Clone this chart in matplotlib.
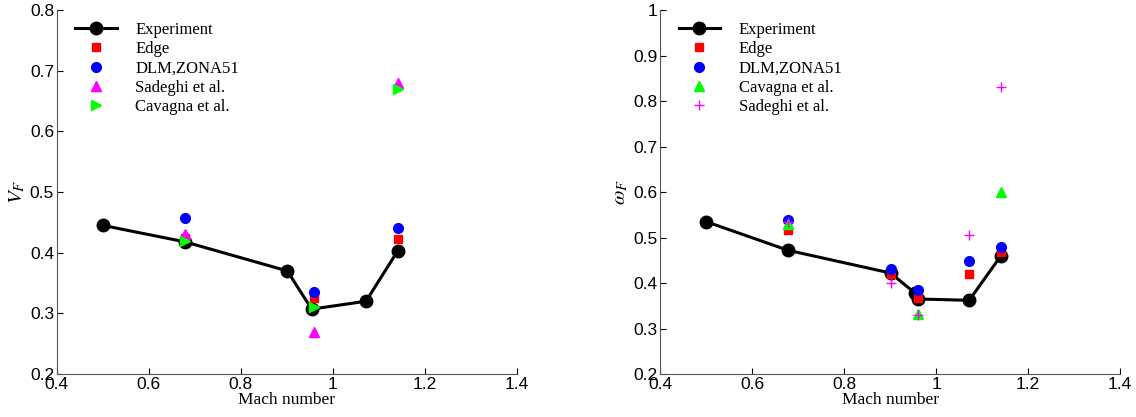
import matplotlib.pyplot as plt

plt.rcParams['mathtext.fontset'] = 'stix'

# left panel: flutter speed index
exp_mach = [0.5, 0.678, 0.901, 0.954, 1.072, 1.141]
exp_vf = [0.445, 0.418, 0.370, 0.307, 0.320, 0.403]
edge_mach = [0.678, 0.96, 1.141]
edge_vf = [0.425, 0.326, 0.423]
dlm_mach = [0.678, 0.96, 1.141]
dlm_vf = [0.458, 0.335, 0.440]
sad_mach = [0.678, 0.96, 1.141]
sad_vf = [0.430, 0.270, 0.680]
cav_mach = [0.678, 0.96, 1.141]
cav_vf = [0.420, 0.310, 0.670]

# right panel: flutter frequency ratio
exp_mach2 = [0.5, 0.678, 0.901, 0.954, 0.96, 1.072, 1.141]
exp_wf = [0.535, 0.472, 0.422, 0.378, 0.365, 0.362, 0.460]
edge_mach2 = [0.678, 0.901, 0.96, 1.072, 1.141]
edge_wf = [0.517, 0.420, 0.368, 0.420, 0.468]
dlm_mach2 = [0.678, 0.901, 0.96, 1.072, 1.141]
dlm_wf = [0.538, 0.430, 0.385, 0.448, 0.480]
cav_mach2 = [0.678, 0.96, 1.141]
cav_wf = [0.530, 0.332, 0.600]
sad_mach2 = [0.678, 0.901, 0.96, 1.072, 1.141]
sad_wf = [0.535, 0.400, 0.330, 0.505, 0.830]

serif = 'Liberation Serif'
sans = 'Liberation Sans'

fig = plt.figure(figsize=(11.36, 4.17), dpi=100)
ax1 = fig.add_axes([0.050, 0.103, 0.405, 0.873])
ax2 = fig.add_axes([0.581, 0.103, 0.405, 0.873])


def style(ax, ylim, yticks, ylabel):
    ax.set_xlim(0.4, 1.4)
    ax.set_ylim(*ylim)
    ax.set_xticks([0.4, 0.6, 0.8, 1.0, 1.2, 1.4])
    ax.set_xticklabels(['0.4', '0.6', '0.8', '1', '1.2', '1.4'])
    ax.set_yticks(yticks)
    ax.set_yticklabels(['%g' % t for t in yticks])
    for lab in ax.get_xticklabels() + ax.get_yticklabels():
        lab.set_fontfamily(sans)
        lab.set_fontsize(12.5)
    ax.tick_params(direction='in', length=4, width=0.8, pad=2)
    ax.spines['top'].set_visible(False)
    ax.spines['right'].set_visible(False)
    for s in ['left', 'bottom']:
        ax.spines[s].set_color('#555555')
    ax.set_xlabel('Mach number', fontfamily=serif, fontsize=12.5, labelpad=0)
    ax.set_ylabel(ylabel, fontsize=15, labelpad=2)


def legend(ax):
    ax.legend(loc='upper left', frameon=False, prop={'family': serif, 'size': 12},
              handlelength=2.5, handletextpad=1.1, labelspacing=0.2,
              borderaxespad=0.3, bbox_to_anchor=(0.015, 1.0))


ax1.plot(exp_mach, exp_vf, 'k-', marker='o', ms=9, lw=2.2, label='Experiment')
ax1.plot(edge_mach, edge_vf, 's', color='red', ms=6, ls='none', label='Edge')
ax1.plot(dlm_mach, dlm_vf, 'o', color='blue', ms=7, ls='none', label='DLM,ZONA51')
ax1.plot(sad_mach, sad_vf, '^', color='magenta', ms=7, ls='none', label='Sadeghi et al.')
ax1.plot(cav_mach, cav_vf, '>', color='#00ff00', ms=7, ls='none', label='Cavagna et al.')
style(ax1, (0.2, 0.8), [0.2, 0.3, 0.4, 0.5, 0.6, 0.7, 0.8], r'$V_F$')
legend(ax1)

ax2.plot(exp_mach2, exp_wf, 'k-', marker='o', ms=9, lw=2.2, label='Experiment')
ax2.plot(edge_mach2, edge_wf, 's', color='red', ms=6, ls='none', label='Edge')
ax2.plot(dlm_mach2, dlm_wf, 'o', color='blue', ms=7, ls='none', label='DLM,ZONA51')
ax2.plot(cav_mach2, cav_wf, '^', color='#00ff00', ms=7, ls='none', label='Cavagna et al.')
ax2.plot(sad_mach2, sad_wf, '+', color='magenta', ms=7, mew=1, ls='none', label='Sadeghi et al.')
style(ax2, (0.2, 1.0), [0.2, 0.3, 0.4, 0.5, 0.6, 0.7, 0.8, 0.9, 1.0], r'$\omega_F$')
legend(ax2)

fig.savefig('out.png', dpi=100)
